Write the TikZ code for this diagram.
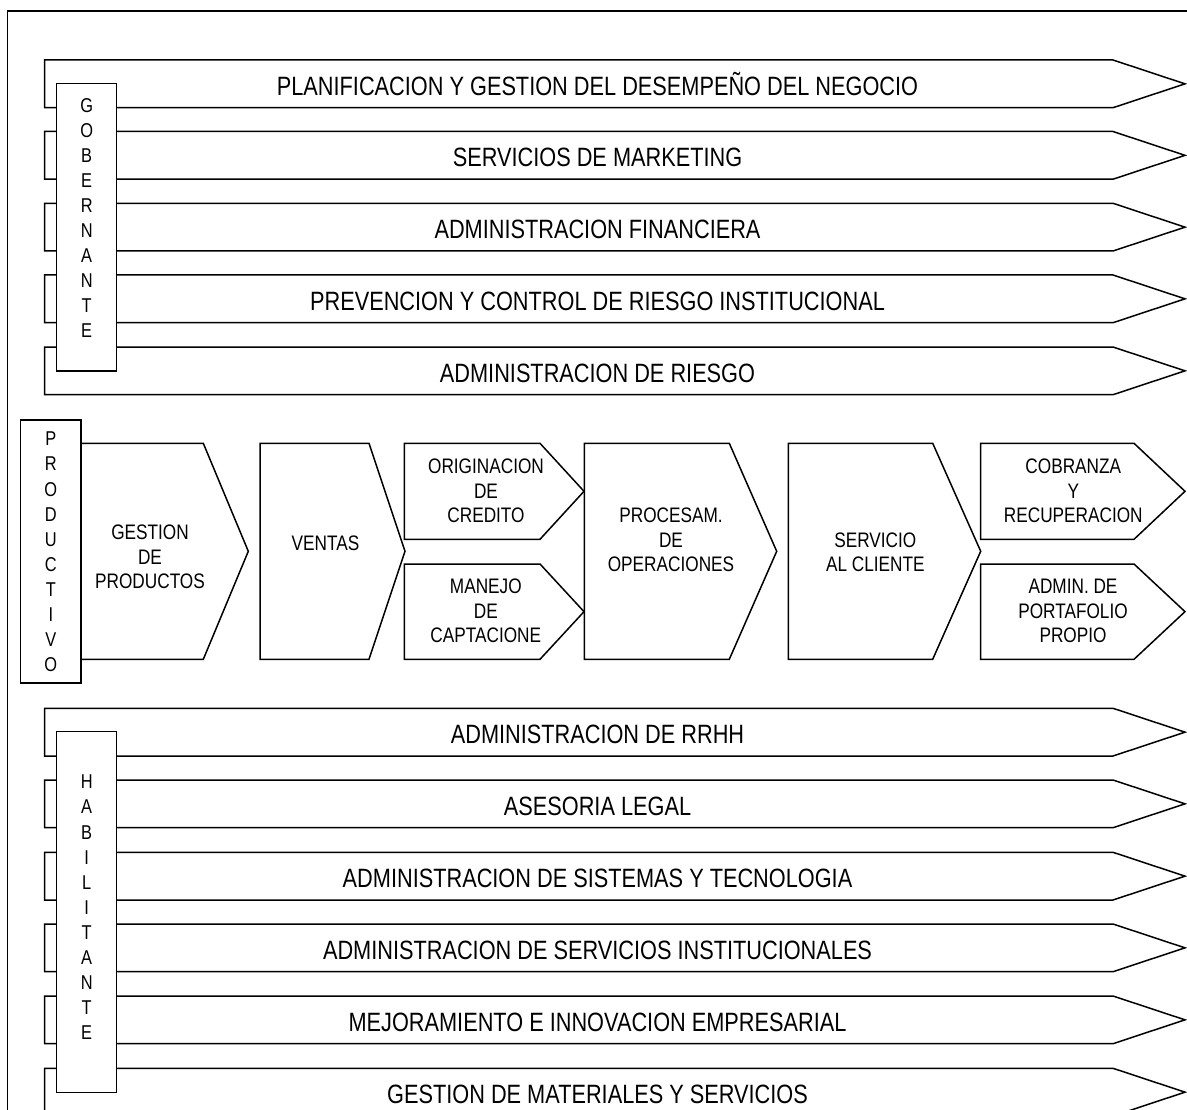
\documentclass[tikz,border=0pt]{standalone}
\usepackage{fontspec}
\setmainfont{Liberation Sans}[FakeStretch=0.82]
\begin{document}
\begin{tikzpicture}[x=1pt,y=-1pt,
  outline/.style={draw=black, line width=1.5pt, line join=miter, fill=white},
  frameline/.style={draw=black, line width=1.9pt},
  bandtext/.style={font=\fontsize{26.5}{30}\selectfont, inner sep=0pt, anchor=base},
  steptext/.style={font=\fontsize{21}{24.5}\selectfont, align=center, inner sep=0pt},
  vtext/.style={font=\fontsize{20}{25.1}\selectfont, align=center, inner sep=0pt}]
\useasboundingbox (0,0) rectangle (1187,1110);

% outer frame (open on the right and at the bottom)
\draw[frameline] (1187,10.7) -- (7.5,10.7) -- (7.5,1110);

% long process band: #1 = top edge, #2 = node name, #3 = label
\newcommand\procband[3]{%
  \draw[outline] (44.5,{#1}) -- (1113,{#1}) -- (1185,{#1+23.85})
    -- (1113,{#1+47.7}) -- (44.5,{#1+47.7}) -- cycle;
  \node[bandtext] (#2) at (597.5,{#1+23.85+11.5}) {#3};}

% chevron step: #1 left, #2 top, #3 bottom, #4 body end, #5 tip x
\newcommand\stepshape[5]{%
  \draw[outline] (#1,#2) -- (#4,#2) -- (#5,{(#2+#3)/2})
    -- (#4,#3) -- (#1,#3) -- cycle;}

% ---- governing processes ----
\procband{60}{gA}{PLANIFICACION Y GESTION DEL DESEMPEÑO DEL NEGOCIO}
\procband{131.5}{gB}{SERVICIOS DE MARKETING}
\procband{203.3}{gC}{ADMINISTRACION FINANCIERA}
\procband{275}{gD}{PREVENCION Y CONTROL DE RIESGO INSTITUCIONAL}
\procband{347}{gE}{ADMINISTRACION DE RIESGO}
\draw[outline] (56.7,83.3) rectangle (116.7,371);
\node[vtext] (gob) at (86.7,218) {G\\O\\B\\E\\R\\N\\A\\N\\T\\E};

% ---- productive chain ----
\stepshape{81}{443.3}{659.3}{203.3}{248.3}
\node[steptext] (gest) at (150,557) {GESTION\\DE\\PRODUCTOS};
\stepshape{260}{443.3}{659.3}{369}{405}
\node[steptext] (vent) at (325.5,543) {VENTAS};
\stepshape{404.3}{443.3}{539.3}{540}{584}
\node[steptext] (orig) at (486,491.2) {ORIGINACION\\DE\\CREDITO};
\stepshape{404.3}{564}{659.3}{540}{584}
\node[steptext] (manj) at (485.8,611.2) {MANEJO\\DE\\CAPTACIONE};
\stepshape{584.3}{443.3}{659.3}{729.3}{776.7}
\node[steptext] (proc) at (671,540) {PROCESAM.\\DE\\OPERACIONES};
\stepshape{788.3}{443.3}{659.3}{932.7}{980.7}
\node[steptext] (serv) at (875.3,552.5) {SERVICIO\\AL CLIENTE};
\stepshape{980.7}{443.3}{539.3}{1134}{1185}
\node[steptext] (cobr) at (1073.3,491.2) {COBRANZA\\Y\\RECUPERACION};
\stepshape{980.7}{564}{659.3}{1134}{1185}
\node[steptext] (port) at (1073,611.2) {ADMIN. DE\\PORTAFOLIO\\PROPIO};
\draw[outline] (20.7,420) rectangle (81,683);
\node[vtext] (prod) at (50.8,552) {P\\R\\O\\D\\U\\C\\T\\I\\V\\O};

% ---- enabling processes ----
\procband{708.3}{hA}{ADMINISTRACION DE RRHH}
\procband{780}{hB}{ASESORIA LEGAL}
\procband{852.3}{hC}{ADMINISTRACION DE SISTEMAS Y TECNOLOGIA}
\procband{924}{hD}{ADMINISTRACION DE SERVICIOS INSTITUCIONALES}
\procband{996}{hE}{MEJORAMIENTO E INNOVACION EMPRESARIAL}
\procband{1068.3}{hF}{GESTION DE MATERIALES Y SERVICIOS}
\draw[outline] (56.7,731.7) rectangle (116.7,1092.3);
\node[vtext] (hab) at (86.7,907.5) {H\\A\\B\\I\\L\\I\\T\\A\\N\\T\\E};
\end{tikzpicture}
\end{document}
